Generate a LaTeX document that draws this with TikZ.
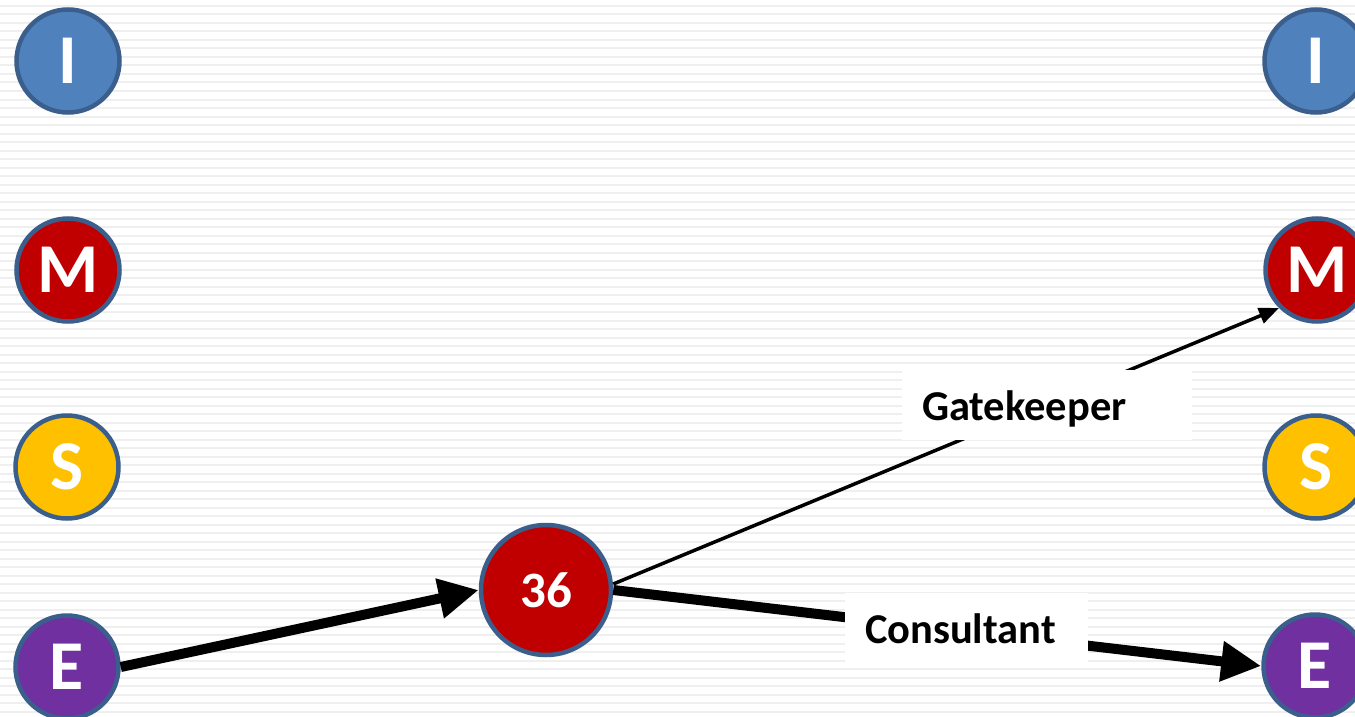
\documentclass[tikz,border=0pt]{standalone}
\usepackage{fontspec}
\setmainfont{Carlito}
\usetikzlibrary{arrows.meta}
\definecolor{cblue}{HTML}{4F81BD}
\definecolor{cred}{HTML}{C00000}
\definecolor{cyellow}{HTML}{FFC000}
\definecolor{cpurple}{HTML}{7030A0}
\definecolor{cborder}{HTML}{3B5F8C}
\definecolor{stripe}{HTML}{EFEFEF}
\tikzset{
  role/.style={circle, draw=cborder, line width=4.5pt, minimum size=103pt, inner sep=0pt,
    text=white, font=\fontsize{70}{70}\selectfont\bfseries},
  hub/.style={role, minimum size=130pt, fill=cred, font=\fontsize{51}{51}\selectfont\bfseries},
  lbl/.style={fill=white, inner xsep=20pt, inner ysep=0pt, minimum height=70pt,
    text height=31pt, text depth=0pt,
    text width=203pt, align=left, font=\fontsize{42.5}{42.5}\selectfont\bfseries},
  thick arrow/.style={line width=10pt, -{Triangle[length=40pt,width=38pt]}},
  thin arrow/.style={line width=3.5pt, -{Triangle[length=20pt,width=16pt]}}
}
\begin{document}
\begin{tikzpicture}[x=1pt,y=-1pt]
\useasboundingbox (0,0) rectangle (1355,717);
\clip (0,0) rectangle (1355,717);
\fill[white] (0,0) rectangle (1355,717);
\foreach \i in {0,...,84} {
  \fill[stripe] (0,{6+8.5*\i-1}) rectangle (1355,{6+8.5*\i+1});
}
% left column
\node[role, fill=cblue]   (I1) at (68,61) {I};
\node[role, fill=cred]    (M1) at (68,270) {M};
\node[role, fill=cyellow] (S1) at (67,467) {S};
\node[role, fill=cpurple] (E1) at (67,667) {E};
% right column
\node[role, fill=cblue]   (I2) at (1316,61) {I};
\node[role, fill=cred]    (M2) at (1317,270) {M};
\node[role, fill=cyellow] (S2) at (1316,467) {S};
\node[role, fill=cpurple] (E2) at (1315,666) {E};
% hub
\node[hub] (H) at (546,590) {36};
% connectors
\draw[thick arrow] (E1.east) -- (H.west);
\draw[thick arrow] (H.east) -- (E2.west);
\draw[thin arrow] (H.east) ++(0,-6) coordinate (Hs) (Hs) -- (M2.south west);
% labels
\node[lbl, text width=250pt] (G) at (1047,405) {Gatekeeper};
\node[lbl] (C) at (966.5,627.5) {Consultant};
\end{tikzpicture}
\end{document}
